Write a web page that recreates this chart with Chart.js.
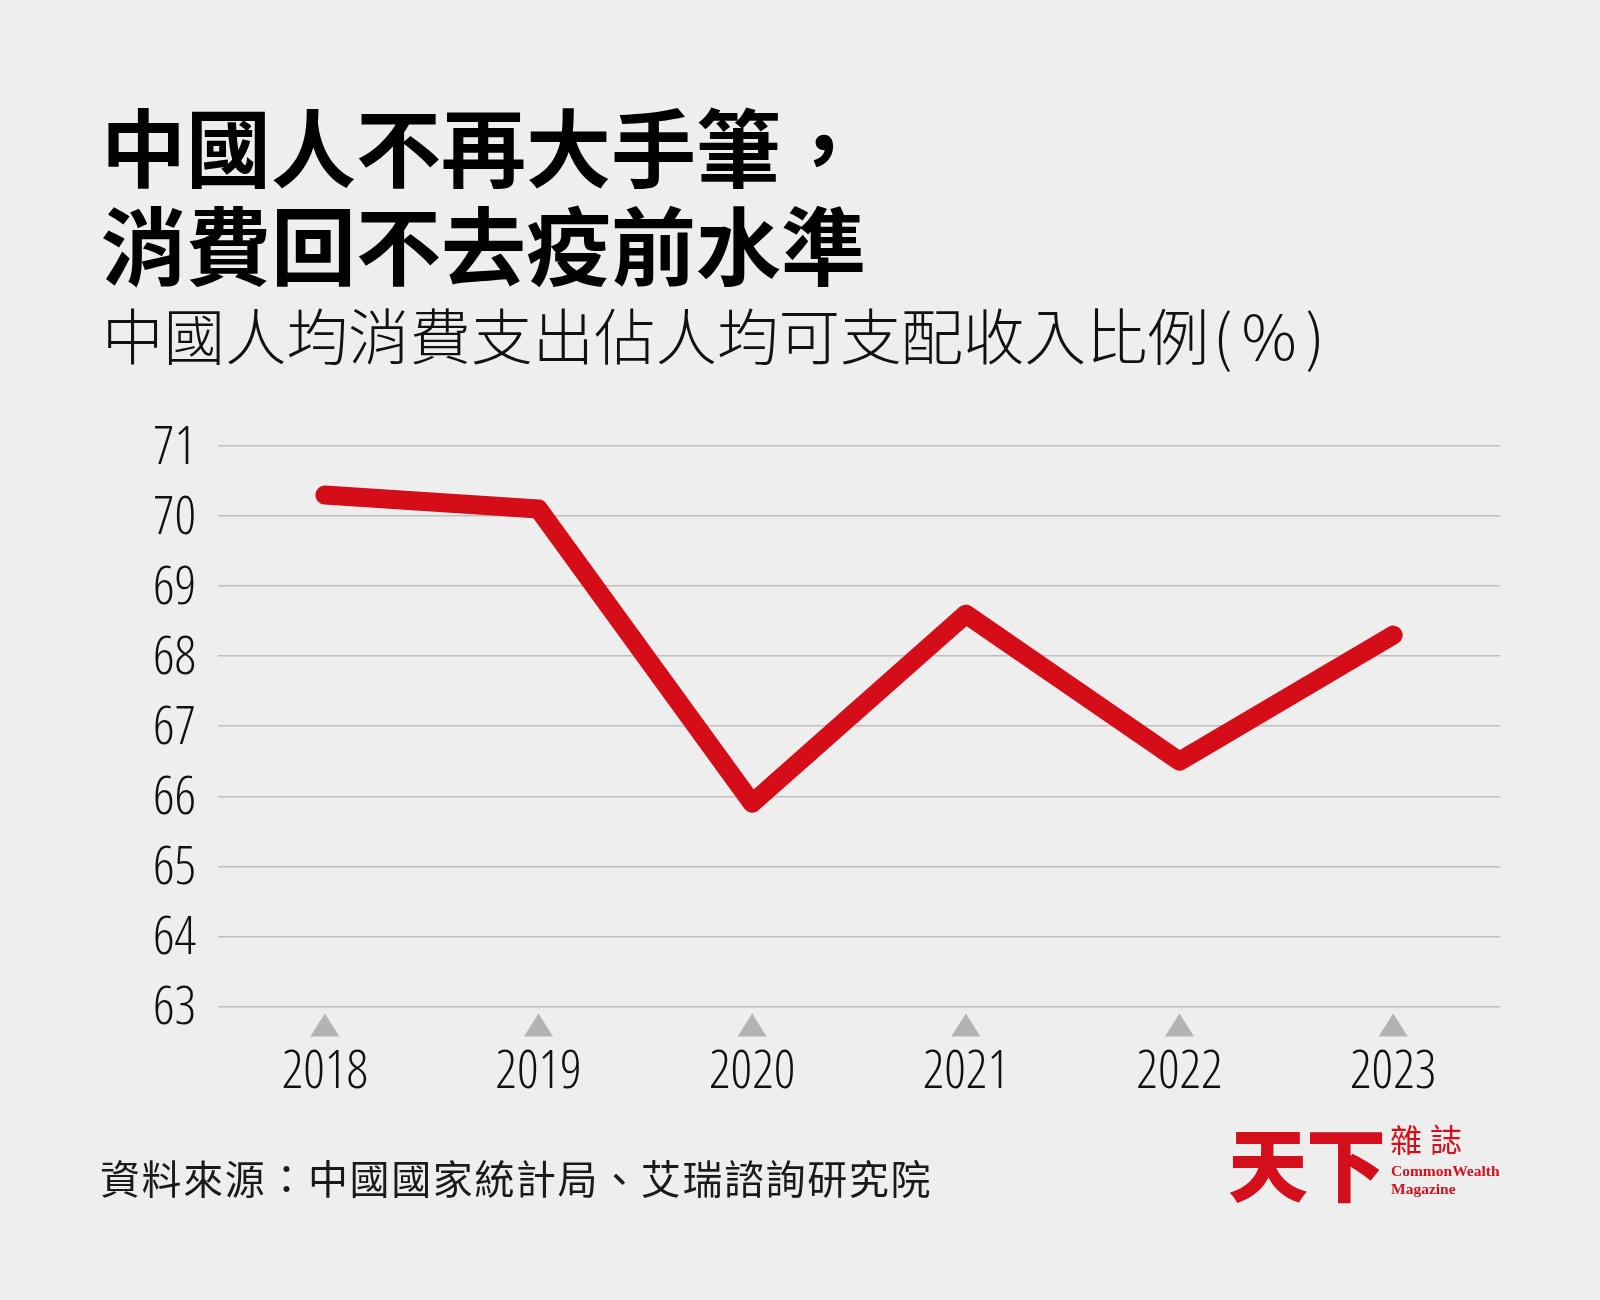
<!DOCTYPE html>
<html>
<head>
<meta charset="utf-8">
<script src="https://cdn.jsdelivr.net/npm/chart.js@4.4.1/dist/chart.umd.min.js"></script>
<style>
  body { margin: 0; background: #eeeeee; }
  #wrap { position: relative; width: 1600px; height: 1300px; background: #eeeeee; overflow: hidden; }
  #meuGrafico { position: absolute; left: 0; top: 0; }
  .txt { position: absolute; white-space: nowrap; font-family: "Noto Sans CJK TC", "Noto Sans CJK SC", sans-serif; color: #000; }
  .titulo { font-size: 85px; font-weight: 700; line-height: 100px; left: 101px; }
  .sub { font-size: 61.5px; font-weight: 300; line-height: 80px; left: 102px; top: 294px; color: #111; }
  .sub span { letter-spacing: 9px; margin-left: 4px; }
  .fonte { font-size: 40px; font-weight: 400; line-height: 50px; left: 100px; top: 1152px; color: #1a1a1a; letter-spacing: 1.6px; }
  .logo { color: #d40f1b; }
</style>
</head>
<body>
<div id="wrap">
  <canvas id="meuGrafico" width="1600" height="1300"></canvas>
  <div class="txt titulo" style="top:94px">中國人不再大手筆，</div>
  <div class="txt titulo" style="top:192px">消費回不去疫前水準</div>
  <div class="txt sub">中國人均消費支出佔人均可支配收入比例<span>(%)</span></div>
  <div class="txt fonte">資料來源：中國國家統計局、艾瑞諮詢研究院</div>
  <div class="txt logo" style="left:1228px; top:1112px; font-size:80px; font-weight:900; line-height:96px; letter-spacing:-2px;">天下</div>
  <div class="txt logo" style="left:1390px; top:1118px; font-size:32px; line-height:40px; letter-spacing:8px;">雜誌</div>
  <div class="txt logo" style="left:1391px; top:1162px; font-family:'Liberation Serif', serif; font-weight:700; font-size:15.5px; line-height:18px;">CommonWealth</div>
  <div class="txt logo" style="left:1391px; top:1180px; font-family:'Liberation Serif', serif; font-weight:700; font-size:15.5px; line-height:18px;">Magazine</div>
</div>
<script>
var anos = ["2018", "2019", "2020", "2021", "2022", "2023"];
var proporcao = [70.3, 70.1, 65.9, 68.6, 66.5, 68.3];
var yMin = 63;
var yMax = 71;

// numeros em fonte estreita (Open Sans com largura condensada)
var fonteNum = { family: "'Open Sans', 'Liberation Sans Narrow', sans-serif", weight: "condensed 360", size: 53 };

// triangulos cinza em cima dos anos
var triangulos = {
  id: "triangulos",
  afterDraw: function(chart){
    var ctx = chart.ctx;
    var xs = chart.scales.x;
    var topo = chart.chartArea.bottom + 7;
    ctx.save();
    ctx.fillStyle = "#b3b3b3";
    for (var i = 0; i < anos.length; i++) {
      var px = xs.getPixelForTick(i);
      ctx.beginPath();
      ctx.moveTo(px, topo);
      ctx.lineTo(px + 14.5, topo + 23);
      ctx.lineTo(px - 14.5, topo + 23);
      ctx.closePath();
      ctx.fill();
    }
    ctx.restore();
  }
};

new Chart("meuGrafico", {
  type: "line",
  data: {
    labels: anos,
    datasets: [{
      data: proporcao,
      fill: false,
      tension: 0,
      borderColor: "#d50d19",
      borderWidth: 19,
      borderCapStyle: "round",
      borderJoinStyle: "round",
      pointRadius: 0
    }]
  },
  options: {
    responsive: false,
    animation: false,
    devicePixelRatio: 1,
    layout: { padding: { left: 153, right: 100, top: 446, bottom: 160 } },
    plugins: { legend: { display: false }, tooltip: { enabled: false } },
    scales: {
      y: {
        min: yMin,
        max: yMax,
        afterFit: function(scale){ scale.width = 65; },
        ticks: {
          stepSize: 1,
          crossAlign: "far",
          padding: 0,
          labelOffset: 3,
          color: "#111",
          font: fonteNum
        },
        grid: { color: "#bfbfbf", lineWidth: 1.5, drawTicks: false },
        border: { display: false }
      },
      x: {
        offset: true,
        grid: { display: false, drawTicks: false },
        border: { display: false },
        ticks: {
          padding: 35,
          color: "#111",
          maxRotation: 0,
          font: fonteNum
        }
      }
    }
  },
  plugins: [triangulos]
});
</script>
</body>
</html>
